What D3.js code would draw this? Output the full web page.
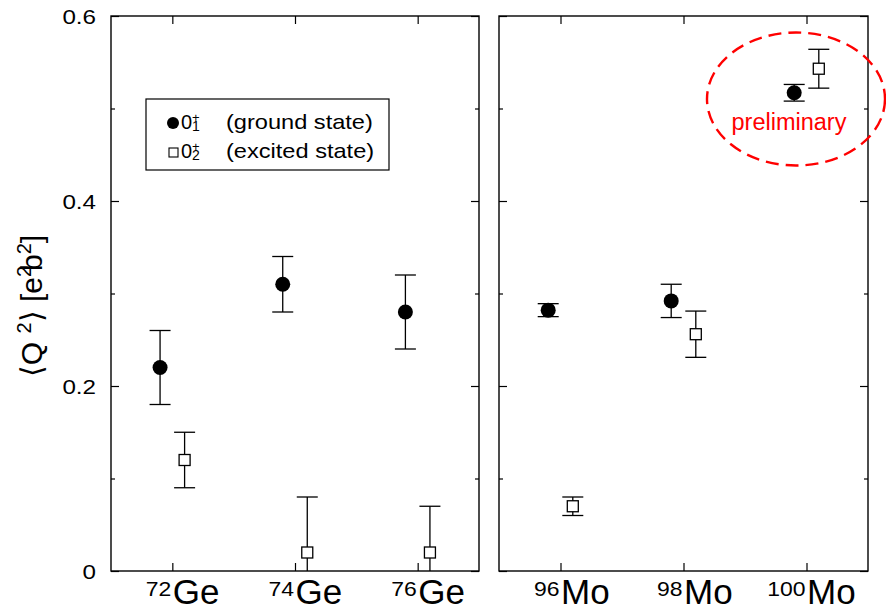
<!DOCTYPE html>
<html>
<head>
<meta charset="utf-8">
<script src="https://cdn.jsdelivr.net/npm/d3@7"></script>
<style>
  body { margin: 0; background: #fff; }
  svg { display: block; font-family: "Liberation Sans", Arial, sans-serif; }
</style>
</head>
<body>
<svg id="chart" width="886" height="610"></svg>
<script>
// isotopes (mass numbers) per panel
const geIsotopes = [72, 74, 76];
const moIsotopes = [96, 98, 100];

// <Q^2> of 0+_1 (ground state) and errors
const geGround = [0.22, 0.31, 0.28];
const geGroundErr = [0.04, 0.03, 0.04];
const moGround = [0.282, 0.292, 0.517];
const moGroundErr = [0.007, 0.018, 0.009];

// <Q^2> of 0+_2 (excited state) and errors
const geExcited = [0.12, 0.02, 0.02];
const geExcitedErr = [0.03, 0.06, 0.05];
const moExcited = [0.07, 0.256, 0.543];
const moExcitedErr = [0.01, 0.025, 0.021];

const yTicks = [0, 0.2, 0.4, 0.6];
const yMinorTicks = [0.1, 0.3, 0.5];

const svg = d3.select("#chart");

const y = d3.scaleLinear().domain([0, 0.6]).range([571, 16]);

const panels = [
  { id: "ge", symbol: "Ge", iso: geIsotopes, ground: geGround, gErr: geGroundErr, excited: geExcited, eErr: geExcitedErr,
    x: d3.scaleLinear().domain([71, 77]).range([111, 479]) },
  { id: "mo", symbol: "Mo", iso: moIsotopes, ground: moGround, gErr: moGroundErr, excited: moExcited, eErr: moExcitedErr,
    x: d3.scaleLinear().domain([95, 101]).range([499, 868]) }
];

// text which is a bit wider than the font (the original looks stretched)
function wideText(parent, x, yy, str, size, sx, anchor) {
  return parent.append("text")
    .attr("transform", `translate(${x},${yy}) scale(${sx},1)`)
    .attr("text-anchor", anchor || "start")
    .style("font-size", size + "px")
    .text(str);
}

const offset = 0.2; // ground left, excited right of the tick

panels.forEach((p, pi) => {
  const x = p.x;
  const [x0, x1] = x.range();
  const g = svg.append("g");

  g.append("clipPath").attr("id", "clip-" + p.id)
    .append("rect").attr("x", x0).attr("y", y(0.6)).attr("width", x1 - x0).attr("height", y(0) - y(0.6));

  // y ticks on both sides, pointing inside
  const yAxisL = d3.axisRight(y).tickValues(yTicks).tickSize(8).tickFormat("");
  const yAxisR = d3.axisLeft(y).tickValues(yTicks).tickSize(8).tickFormat("");
  const yMinL = d3.axisRight(y).tickValues(yMinorTicks).tickSize(4).tickFormat("");
  const yMinR = d3.axisLeft(y).tickValues(yMinorTicks).tickSize(4).tickFormat("");
  g.append("g").attr("transform", `translate(${x0},0)`).call(yAxisL);
  g.append("g").attr("transform", `translate(${x0},0)`).call(yMinL);
  g.append("g").attr("transform", `translate(${x1},0)`).call(yAxisR);
  g.append("g").attr("transform", `translate(${x1},0)`).call(yMinR);

  // x ticks bottom and top, pointing inside
  g.append("g").attr("transform", `translate(0,${y(0)})`)
    .call(d3.axisTop(x).tickValues(p.iso).tickSize(8).tickFormat(""));
  g.append("g").attr("transform", `translate(0,${y(0.6)})`)
    .call(d3.axisBottom(x).tickValues(p.iso).tickSize(8).tickFormat(""));

  g.selectAll(".domain").remove();
  g.selectAll(".tick line").attr("stroke", "#000").attr("stroke-width", 1.2);

  g.append("rect")
    .attr("x", x0).attr("y", y(0.6)).attr("width", x1 - x0).attr("height", y(0) - y(0.6))
    .attr("fill", "none").attr("stroke", "#000").attr("stroke-width", 1.4);

  // x labels: mass number as superscript, element symbol
  p.iso.forEach(a => {
    wideText(g, x(a) - 1, 596, String(a), 20.5, 1.12, "end");
    g.append("text").attr("x", x(a) + 0.5).attr("y", 604)
      .style("font-size", "35px").text(p.symbol);
  });

  const marks = g.append("g").attr("clip-path", `url(#clip-${p.id})`);

  function errorBars(vals, errs, dx) {
    const eb = marks.append("g").attr("stroke", "#000").attr("stroke-width", 1.3);
    eb.selectAll("line.v").data(vals).join("line")
      .attr("x1", (d, i) => x(p.iso[i] + dx)).attr("x2", (d, i) => x(p.iso[i] + dx))
      .attr("y1", (d, i) => y(d - errs[i])).attr("y2", (d, i) => y(d + errs[i]));
    [-1, 1].forEach(s => {
      eb.selectAll("line.c" + (s + 1)).data(vals).join("line")
        .attr("x1", (d, i) => x(p.iso[i] + dx) - 10.5).attr("x2", (d, i) => x(p.iso[i] + dx) + 10.5)
        .attr("y1", (d, i) => y(d + s * errs[i])).attr("y2", (d, i) => y(d + s * errs[i]));
    });
  }

  errorBars(p.ground, p.gErr, -offset);
  errorBars(p.excited, p.eErr, offset);

  marks.selectAll("circle.gs").data(p.ground).join("circle")
    .attr("cx", (d, i) => x(p.iso[i] - offset)).attr("cy", d => y(d))
    .attr("r", 7.5).attr("fill", "#000");

  marks.selectAll("rect.es").data(p.excited).join("rect")
    .attr("x", (d, i) => x(p.iso[i] + offset) - 5.5).attr("y", d => y(d) - 5.5)
    .attr("width", 11).attr("height", 11)
    .attr("fill", "#fff").attr("stroke", "#000").attr("stroke-width", 1.3);
});

// y tick labels
yTicks.forEach(t => {
  wideText(svg, 96, y(t) + 7.5, t === 0 ? "0" : t.toFixed(1), 20.5, 1.18, "end");
});

// y title
const title = svg.append("text")
  .attr("transform", `translate(42,306) rotate(-90)`)
  .attr("text-anchor", "middle")
  .style("font-size", "30px");
title.append("tspan").text("\u27E8Q ");
title.append("tspan").attr("dy", -11).style("font-size", "20px").text("2");
title.append("tspan").attr("dy", 11).text("\u27E9 [e");
title.append("tspan").attr("dy", -11).style("font-size", "20px").text("2");
title.append("tspan").attr("dy", 11).attr("dx", -5).text("b");
title.append("tspan").attr("dy", -11).style("font-size", "20px").text("2");
title.append("tspan").attr("dy", 11).text("]");

// legend
const leg = svg.append("g");
leg.append("rect").attr("x", 146).attr("y", 99).attr("width", 243).attr("height", 71)
  .attr("fill", "#fff").attr("stroke", "#000").attr("stroke-width", 1.2);
const legItems = [
  { sub: "1", text: "(ground state)", base: 129 },
  { sub: "2", text: "(excited state)", base: 158 }
];
legItems.forEach((it, i) => {
  if (i === 0) {
    leg.append("circle").attr("cx", 173).attr("cy", it.base - 6).attr("r", 6).attr("fill", "#000");
  } else {
    leg.append("rect").attr("x", 169).attr("y", it.base - 10).attr("width", 9).attr("height", 9)
      .attr("fill", "#fff").attr("stroke", "#000").attr("stroke-width", 1.1);
  }
  leg.append("text").attr("x", 181).attr("y", it.base).style("font-size", "20px").text("0");
  leg.append("text").attr("x", 192).attr("y", it.base - 7).style("font-size", "13px").text("+");
  leg.append("text").attr("x", 192).attr("y", it.base + 2).style("font-size", "14px").text(it.sub);
  wideText(leg, 226, it.base, it.text, 20, 1.18, "start");
});

// preliminary mark around the 100Mo points
svg.append("ellipse")
  .attr("cx", 796).attr("cy", 99).attr("rx", 89).attr("ry", 66.5)
  .attr("fill", "none").attr("stroke", "#ff0000").attr("stroke-width", 2.4)
  .attr("stroke-dasharray", "13,7");
svg.append("text").attr("x", 789).attr("y", 130).attr("text-anchor", "middle")
  .style("font-size", "23.5px").attr("fill", "#ff0000").text("preliminary");
</script>
</body>
</html>
